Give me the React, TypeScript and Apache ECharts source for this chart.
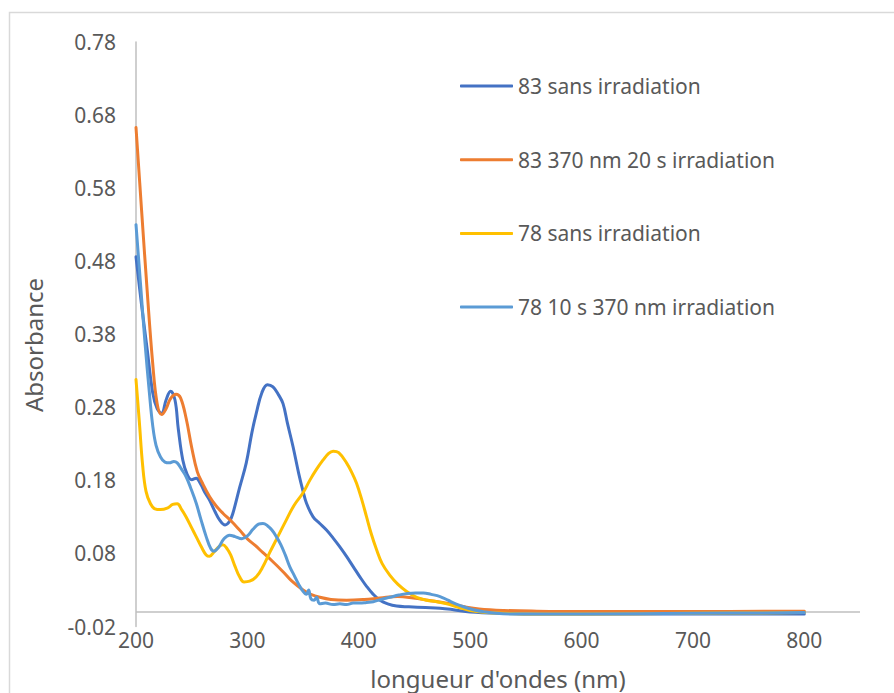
import React, { useEffect, useRef } from "react";
import * as echarts from "echarts";

// ---- Data ----
const seriesNames = [
  "83 sans irradiation",
  "83 370 nm 20 s irradiation",
  "78 sans irradiation",
  "78 10 s 370 nm irradiation",
];

const nm83Sans = [200, 205, 210, 215, 219, 223, 227, 231, 235, 238, 242, 246, 250, 254, 258, 262, 266, 271, 275, 280, 284, 287, 293, 299, 304, 308, 313, 318, 323, 328, 332, 336, 341, 346, 350, 353, 359, 365, 371, 377, 383, 389, 395, 401, 407, 413, 419, 426, 434, 445, 460, 473, 485, 500, 530, 560, 600, 700, 800];
const abs83Sans = [0.486, 0.42, 0.36, 0.30, 0.278, 0.272, 0.29, 0.302, 0.29, 0.25, 0.208, 0.188, 0.181, 0.183, 0.175, 0.163, 0.153, 0.137, 0.126, 0.119, 0.124, 0.135, 0.17, 0.204, 0.245, 0.272, 0.3, 0.311, 0.308, 0.297, 0.285, 0.258, 0.226, 0.19, 0.165, 0.149, 0.13, 0.121, 0.112, 0.101, 0.089, 0.076, 0.062, 0.048, 0.035, 0.024, 0.016, 0.011, 0.008, 0.007, 0.006, 0.005, 0.003, 0.0, -0.002, -0.003, -0.003, -0.003, -0.003];

const nm83Irr = [200, 205, 210, 215, 219, 223, 227, 231, 236, 240, 245, 250, 255, 260, 266, 272, 278, 285, 293, 300, 307, 314, 322, 332, 340, 350, 357, 365, 375, 389, 405, 419, 435, 449, 462, 479, 495, 508, 530, 560, 600, 700, 800];
const abs83Irr = [0.663, 0.55, 0.44, 0.34, 0.285, 0.27, 0.278, 0.292, 0.298, 0.293, 0.265, 0.225, 0.192, 0.175, 0.158, 0.145, 0.135, 0.125, 0.112, 0.1, 0.091, 0.081, 0.07, 0.055, 0.042, 0.03, 0.024, 0.02, 0.017, 0.016, 0.017, 0.019, 0.021, 0.019, 0.016, 0.012, 0.007, 0.004, 0.002, 0.001, 0.0005, 0.0005, 0.001];

const nm78Sans = [200, 203, 206, 209, 213, 217, 222, 228, 233, 237, 241, 245, 250, 254, 259, 263, 266, 270, 275, 278, 282, 285, 289, 293, 297, 302, 308, 314, 320, 327, 335, 342, 350, 356, 362, 368, 373, 377, 382, 389, 394, 398, 403, 407, 411, 416, 421, 428, 435, 443, 452, 461, 470, 479, 490, 500, 510, 530, 560, 600, 700, 800];
const abs78Sans = [0.318, 0.26, 0.2, 0.165, 0.148, 0.141, 0.14, 0.142, 0.147, 0.148, 0.14, 0.13, 0.115, 0.103, 0.088, 0.078, 0.076, 0.082, 0.09, 0.092, 0.086, 0.078, 0.062, 0.048, 0.041, 0.042, 0.048, 0.062, 0.081, 0.102, 0.126, 0.146, 0.163, 0.18, 0.195, 0.208, 0.217, 0.22, 0.218, 0.204, 0.19, 0.176, 0.152, 0.13, 0.108, 0.085, 0.066, 0.05, 0.038, 0.028, 0.02, 0.016, 0.014, 0.011, 0.006, 0.002, 0.0, -0.002, -0.003, -0.003, -0.002, -0.001];

const nm78Irr = [200, 204, 208, 212, 215, 218, 222, 226, 230, 234, 237, 241, 245, 249, 254, 258, 263, 267, 270, 274, 279, 284, 289, 295, 300, 305, 310, 314, 318, 322, 326, 330, 334, 338, 342, 346, 350, 353, 355, 357, 360, 362, 365, 370, 377, 383, 389, 395, 401, 407, 413, 420, 428, 436, 443, 451, 458, 465, 473, 480, 487, 494, 503, 513, 523, 540, 600, 700, 800];
const abs78Irr = [0.53, 0.45, 0.37, 0.3, 0.255, 0.228, 0.212, 0.205, 0.204, 0.206, 0.204, 0.195, 0.185, 0.17, 0.149, 0.128, 0.103, 0.087, 0.083, 0.088, 0.1, 0.105, 0.103, 0.1, 0.104, 0.113, 0.12, 0.121, 0.118, 0.112, 0.103, 0.092, 0.078, 0.062, 0.05, 0.038, 0.028, 0.024, 0.03, 0.018, 0.016, 0.02, 0.011, 0.012, 0.01, 0.011, 0.01, 0.012, 0.012, 0.013, 0.014, 0.017, 0.02, 0.023, 0.025, 0.026, 0.026, 0.024, 0.021, 0.016, 0.011, 0.007, 0.003, 0.0, -0.002, -0.003, -0.003, -0.002, -0.001];

const seriesColors = ["#4472C4", "#ED7D31", "#FFC000", "#5B9BD5"];
const xTitle = "longueur d'ondes (nm)";
const yTitle = "Absorbance";

const zip = (xs: number[], ys: number[]) => xs.map((x, i) => [x, ys[i]]);

export default function App() {
  const ref = useRef<HTMLDivElement>(null);
  useEffect(() => {
    if (!ref.current) return;
    const chart = echarts.init(ref.current, null, { renderer: "svg" });
    const font = "'Noto Sans', 'Liberation Sans', sans-serif";
    const textColor = "#595959";
    const datasets = [
      zip(nm83Sans, abs83Sans),
      zip(nm83Irr, abs83Irr),
      zip(nm78Sans, abs78Sans),
      zip(nm78Irr, abs78Irr),
    ];
    chart.setOption({
      animation: false,
      textStyle: { fontFamily: font },
      grid: { left: 136, right: 34, top: 42, bottom: 66.5 },
      legend: {
        orient: "vertical",
        left: 455,
        top: 70.5,
        itemWidth: 53,
        itemHeight: 3,
        itemGap: 52.7,
        icon: "roundRect",
        textStyle: { fontSize: 21, color: textColor, fontFamily: font },
        data: seriesNames,
      },
      xAxis: {
        type: "value",
        min: 200,
        max: 850,
        interval: 100,
        axisLine: { show: false, onZero: false },
        axisTick: { show: false },
        splitLine: { show: false },
        axisLabel: {
          fontSize: 21,
          color: textColor,
          margin: 3,
          formatter: (v: number) => (v > 800 ? "" : String(v)),
        },
      },
      yAxis: {
        type: "value",
        min: -0.02,
        max: 0.78,
        interval: 0.1,
        axisLine: { show: true, lineStyle: { color: "#bfbfbf", width: 1.5 } },
        axisTick: { show: false },
        splitLine: { show: false },
        axisLabel: {
          fontSize: 21,
          color: textColor,
          margin: 20,
          formatter: (v: number) => v.toFixed(2),
        },
      },
      graphic: [
        {
          type: "rect",
          shape: { x: 9.5, y: 12.5, width: 1000, height: 1000 },
          style: { fill: "none", stroke: "#d9d9d9", lineWidth: 1.5 },
          silent: true,
          z: -10,
        },
        {
          type: "text",
          x: 33,
          y: 345,
          rotation: Math.PI / 2,
          style: {
            text: yTitle,
            fontSize: 24,
            fill: textColor,
            fontFamily: font,
            align: "center",
            verticalAlign: "middle",
          },
        },
        {
          type: "text",
          x: 498,
          y: 678,
          style: {
            text: xTitle,
            fontSize: 24,
            fill: textColor,
            fontFamily: font,
            align: "center",
            verticalAlign: "middle",
          },
        },
      ],
      series: seriesNames.map((name, i) => ({
        name,
        type: "line",
        data: datasets[i],
        smooth: 0.4,
        showSymbol: false,
        symbol: "none",
        lineStyle: { color: seriesColors[i], width: 3, cap: "round", join: "round" },
        itemStyle: { color: seriesColors[i] },
        z: 2 + i,
        markLine:
          i === 0
            ? {
                silent: true,
                symbol: "none",
                label: { show: false },
                lineStyle: { color: "#bfbfbf", width: 1.5, type: "solid" },
                data: [{ yAxis: 0 }],
                z: 1,
              }
            : undefined,
      })),
    });
    return () => chart.dispose();
  }, []);
  return (
    <div
      ref={ref}
      style={{ position: "fixed", left: 0, top: 0, width: 894, height: 693, background: "#fff" }}
    />
  );
}
